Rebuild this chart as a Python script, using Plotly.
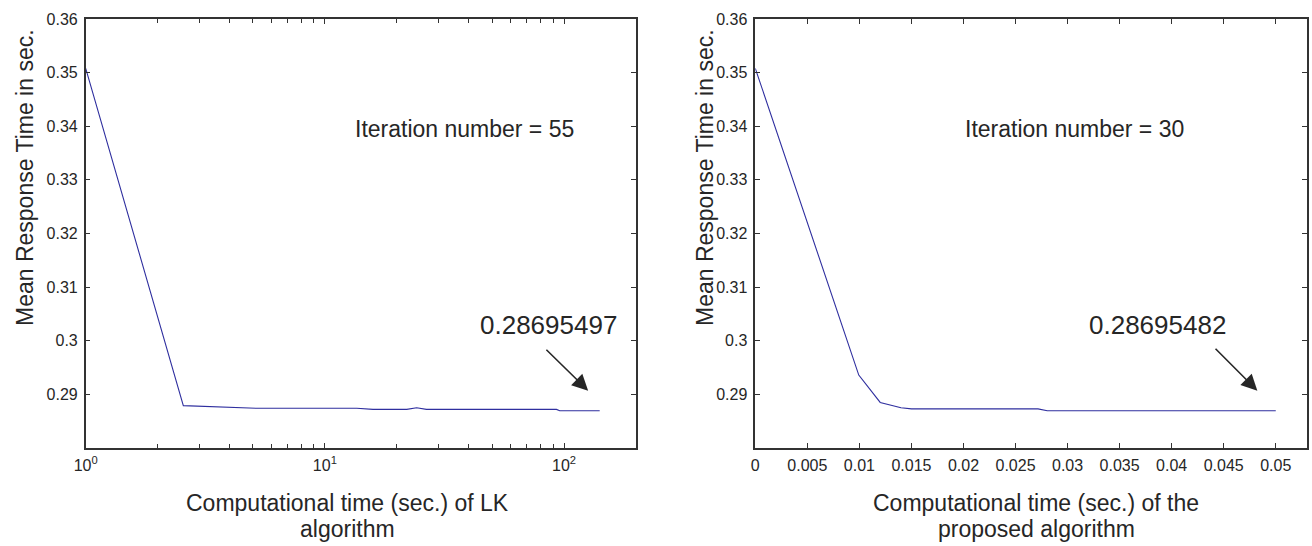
import plotly.graph_objects as go

# ---- data ----
lk_time = [1, 2.56, 5.2, 13.6, 15.9, 22.0, 24.2, 26.6, 93, 96, 141]
lk_resp = [0.3508, 0.2879, 0.2874, 0.2874, 0.2872, 0.2872, 0.2875, 0.2872, 0.2872, 0.28695, 0.28695]

prop_time = [0, 0.00994, 0.0120, 0.0140, 0.0150, 0.02716, 0.02805, 0.0500]
prop_resp = [0.3508, 0.2936, 0.2885, 0.2875, 0.2873, 0.2873, 0.28695, 0.28695]

y_ticks = [0.29, 0.30, 0.31, 0.32, 0.33, 0.34, 0.35, 0.36]
y_ticktext = ["0.29", "0.3", "0.31", "0.32", "0.33", "0.34", "0.35", "0.36"]
lk_ticks = [1, 10, 100]
lk_ticktext = ["10<sup>0</sup>", "10<sup>1</sup>", "10<sup>2</sup>"]
lk_minor = [2, 3, 4, 5, 6, 7, 8, 9, 20, 30, 40, 50, 60, 70, 80, 90, 200]
prop_ticks = [0, 0.005, 0.01, 0.015, 0.02, 0.025, 0.03, 0.035, 0.04, 0.045, 0.05]
prop_ticktext = ["0", "0.005", "0.01", "0.015", "0.02", "0.025", "0.03", "0.035", "0.04", "0.045", "0.05"]

FONT = "Liberation Sans, Arial, sans-serif"
TXT = "#262626"
AX = "#333333"
LINE = "#2f2f9f"

fig = go.Figure()
fig.add_trace(go.Scatter(x=lk_time, y=lk_resp, mode="lines",
                         line=dict(color=LINE, width=1.1), xaxis="x", yaxis="y",
                         showlegend=False, hoverinfo="skip"))
fig.add_trace(go.Scatter(x=prop_time, y=prop_resp, mode="lines",
                         line=dict(color=LINE, width=1.1), xaxis="x2", yaxis="y2",
                         showlegend=False, hoverinfo="skip"))

W, H = 1312, 546
ytop, ybot = 19, 448
dom_y = [(H - ybot) / H, (H - ytop) / H]

common = dict(showline=True, linecolor=AX, linewidth=1.5, mirror="ticks",
              ticks="inside", ticklen=5, tickcolor=AX, tickwidth=1,
              showgrid=False, zeroline=False, automargin=False,
              tickfont=dict(family=FONT, size=16, color=TXT))

fig.update_layout(
    width=W, height=H,
    margin=dict(l=0, r=0, t=0, b=0),
    paper_bgcolor="white", plot_bgcolor="white",
    xaxis=dict(domain=[85.7 / W, 636 / W], type="log", range=[0, 2.30103],
               tickvals=lk_ticks, ticktext=lk_ticktext, anchor="y",
               ticklabelstandoff=2,
               minor=dict(tickvals=lk_minor, ticks="inside", ticklen=4,
                          tickcolor=AX, tickwidth=1),
               **common),
    yaxis=dict(domain=dom_y, range=[0.28, 0.36], tickvals=y_ticks,
               ticktext=y_ticktext, anchor="x", ticklabelstandoff=3, **common),
    xaxis2=dict(domain=[755.3 / W, 1307 / W], range=[0, 0.053],
                tickvals=prop_ticks, ticktext=prop_ticktext, anchor="y2",
                ticklabelstandoff=2, **common),
    yaxis2=dict(domain=dom_y, range=[0.28, 0.36], tickvals=y_ticks,
                ticktext=y_ticktext, anchor="x2", ticklabelstandoff=3, **common),
)

big = dict(family=FONT, size=23, color=TXT)
num = dict(family=FONT, size=26, color=TXT)
ann = []
# axis titles
ann.append(dict(xref="paper", yref="paper", x=347 / W, y=1 - 503 / H,
                text="Computational time (sec.) of LK", showarrow=False,
                font=big, xanchor="center", yanchor="middle"))
ann.append(dict(xref="paper", yref="paper", x=347 / W, y=1 - 529 / H,
                text="algorithm", showarrow=False,
                font=big, xanchor="center", yanchor="middle"))
ann.append(dict(xref="paper", yref="paper", x=1036 / W, y=1 - 503 / H,
                text="Computational time (sec.) of the", showarrow=False,
                font=big, xanchor="center", yanchor="middle"))
ann.append(dict(xref="paper", yref="paper", x=1036 / W, y=1 - 529 / H,
                text="proposed algorithm", showarrow=False,
                font=big, xanchor="center", yanchor="middle"))
ann.append(dict(xref="paper", yref="paper", x=25 / W, y=1 - 178 / H,
                text="Mean Response Time in sec.", showarrow=False, textangle=-90,
                font=big, xanchor="center", yanchor="middle"))
ann.append(dict(xref="paper", yref="paper", x=705 / W, y=1 - 178 / H,
                text="Mean Response Time in sec.", showarrow=False, textangle=-90,
                font=big, xanchor="center", yanchor="middle"))
# in-plot texts
ann.append(dict(xref="x", yref="y", x=1.116, y=0.3395,
                text="Iteration number = 55", showarrow=False, font=big,
                xanchor="left", yanchor="middle"))
ann.append(dict(xref="x2", yref="y2", x=0.01995, y=0.3395,
                text="Iteration number = 30", showarrow=False, font=big,
                xanchor="left", yanchor="middle"))
ann.append(dict(xref="x", yref="y", x=1.937, y=0.3029,
                text="0.28695497", showarrow=False, font=num,
                xanchor="center", yanchor="middle"))
ann.append(dict(xref="x2", yref="y2", x=0.0386, y=0.3029,
                text="0.28695482", showarrow=False, font=num,
                xanchor="center", yanchor="middle"))
# arrows
ann.append(dict(xref="x", yref="y", axref="x", ayref="y",
                x=2.101, y=0.29069, ax=1.920, ay=0.29859, text="",
                showarrow=True, arrowhead=2, arrowsize=2.0, arrowwidth=1.6,
                arrowcolor=TXT))
ann.append(dict(xref="x2", yref="y2", axref="x2", ayref="y2",
                x=0.04823, y=0.29069, ax=0.04407, ay=0.29878, text="",
                showarrow=True, arrowhead=2, arrowsize=2.0, arrowwidth=1.6,
                arrowcolor=TXT))
fig.update_layout(annotations=ann)

fig.write_html("out.html",
               config={"displayModeBar": False},
               post_script="document.body.style.margin='0';document.body.style.padding='0';")
